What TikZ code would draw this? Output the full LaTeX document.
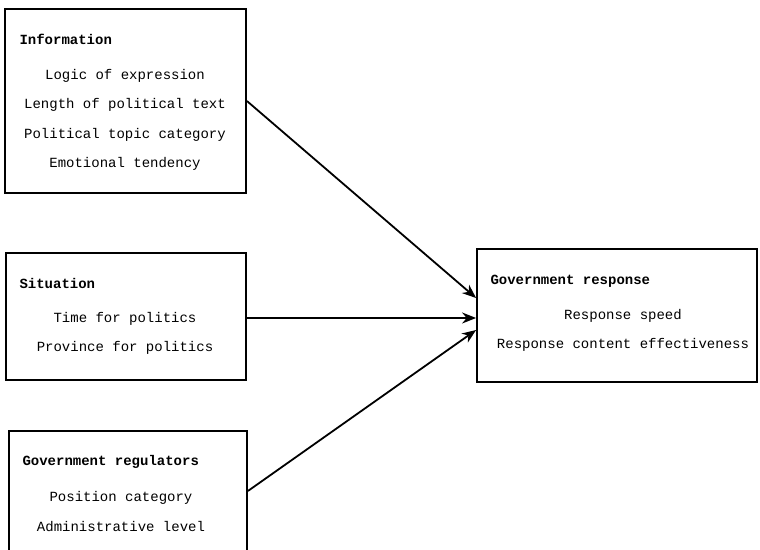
\documentclass[tikz,border=0pt]{standalone}
\usepackage{fontspec}
\usepackage{tikz}
\usetikzlibrary{
    arrows.meta,
    positioning
}
\newfontfamily\diagfont{Liberation Mono}
\tikzset{
    box/.style={draw, line width=1.8pt, rectangle, inner sep=0pt},
    head/.style={anchor=west, font=\diagfont\bfseries\fontsize{14}{16}\selectfont},
    item/.style={font=\diagfont\fontsize{14}{16}\selectfont},
    link/.style={-{Stealth[length=14pt,width=11pt]}, line width=1.8pt}
}

\begin{document}
\begin{tikzpicture}[x=1pt, y=-1pt]
                                \useasboundingbox (0, 0) rectangle (760, 549);
                                \clip (0, 0) rectangle (760, 549);
                                \node[box, minimum width=241pt, minimum height=184pt] (inf) at (125.5, 101) {};
                                \node[box, minimum width=240pt, minimum height=127pt] (sit) at (126, 316.5) {};
                                \node[box, minimum width=238pt, minimum height=120pt] (reg) at (128, 491) {};
                                \node[box, minimum width=280pt, minimum height=133pt] (res) at (617, 315.5) {};
                                \node[head] (infh) at (16, 39) {Information};
                                \node[item] (inf1) at (125, 76) {Logic of expression};
                                \node[item] (inf2) at (125, 105) {Length of political text};
                                \node[item] (inf3) at (125, 135) {Political topic category};
                                \node[item] (inf4) at (125, 164) {Emotional tendency};
                                \node[head] (sith) at (16, 283) {Situation};
                                \node[item] (sit1) at (125, 319) {Time for politics};
                                \node[item] (sit2) at (125, 348) {Province for politics};
                                \node[head] (regh) at (19, 462) {Government regulators};
                                \node[item] (reg1) at (121, 498) {Position category};
                                \node[item] (reg2) at (121, 527) {Administrative level};
                                \node[head] (resh) at (487, 281) {Government response};
                                \node[item] (res1) at (623, 316) {Response speed};
                                \node[item] (res2) at (623, 345) {Response content effectiveness};
                                \draw
                                (inf.east) edge[link] ([yshift=17.5pt]res.west)
                                ([yshift=-1.5pt]sit.east) edge[link] ([yshift=-2.5pt]res.west)
                                (reg.east) edge[link] ([yshift=-14.5pt]res.west);
                            \end{tikzpicture}
\end{document}
